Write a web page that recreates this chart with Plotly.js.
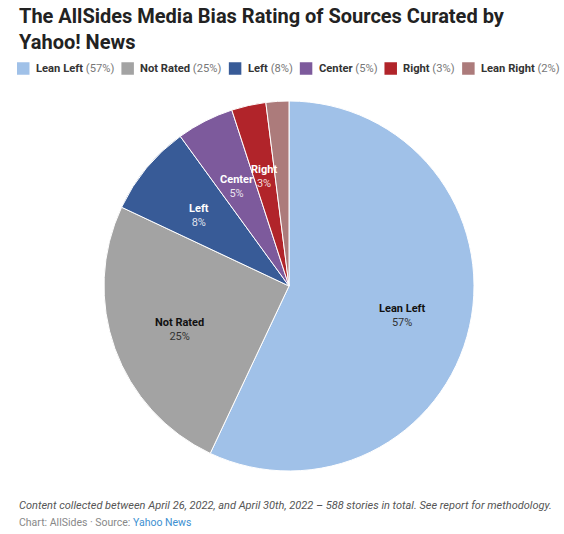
<!DOCTYPE html>
<html>
<head>
<meta charset="utf-8">
<script src="https://cdn.plot.ly/plotly-3.0.1.min.js"></script>
<style>
html,body{margin:0;padding:0;background:#fff;}
#chart{width:564px;height:534px;}
</style>
</head>
<body>
<div id="chart"></div>
<script>
// ---- data ----
const categories = ["Lean Left", "Not Rated", "Left", "Center", "Right", "Lean Right"];
const percentages = [57, 25, 8, 5, 3, 2];
const sliceColors = ["#a0c1e8", "#a3a3a3", "#385b97", "#7d5a9c", "#b1242a", "#ac7b7b"];
const labelNameColors = ["#111111", "#111111", "#ffffff", "#ffffff", "#ffffff", "#ffffff"];
const labelPctColors = ["#333333", "#333333", "rgba(255,255,255,0.85)", "rgba(255,255,255,0.85)", "rgba(255,255,255,0.85)", "rgba(255,255,255,0.85)"];
const titleText = "The AllSides Media Bias Rating of Sources Curated by<br>Yahoo! News";
const noteText = "Content collected between April 26, 2022, and April 30th, 2022 – 588 stories in total. See report for methodology.";
const creditText = "Chart: AllSides · Source: <span style=\"color:#3d8fd1\">Yahoo News</span>";

// ---- layout geometry ----
const W = 564, H = 534;
const cx = 289, cy = 286, R = 185;
const FONT = "Roboto, Arial, sans-serif";
const SQ = 12.5;

const annotations = [];
const shapes = [];

// title
annotations.push({
  xref: "paper", yref: "paper", x: 17 / W, y: 1 - 2 / H,
  xanchor: "left", yanchor: "top", align: "left", showarrow: false,
  text: "<b>" + titleText + "</b>",
  font: {family: FONT, size: 20, color: "#222222"}
});

// legend built from the categories (x positions fixed after measuring)
const legendY = 68.5;
const legendAnnIdx = [];
categories.forEach((c, i) => {
  shapes.push({
    type: "rect", xref: "paper", yref: "paper",
    x0: 0, x1: SQ / W, y0: 1 - (legendY + SQ / 2) / H, y1: 1 - (legendY - SQ / 2) / H,
    fillcolor: sliceColors[i], line: {width: 0}
  });
  legendAnnIdx.push(annotations.length);
  annotations.push({
    xref: "paper", yref: "paper", x: 0, y: 1 - legendY / H,
    xanchor: "left", yanchor: "middle", showarrow: false,
    text: "<b>" + c + "</b><span style=\"color:#777777\"> (" + percentages[i] + "%)</span>",
    font: {family: FONT, size: 11.2, color: "#333333"}
  });
});

// slice labels
const total = percentages.reduce((a, b) => a + b, 0);
let cum = 0;
percentages.forEach((v, i) => {
  const mid = (cum + v / 2) / total * 2 * Math.PI;
  cum += v;
  if (v < 3) return;
  const rr = R * 0.63;
  const px = cx + rr * Math.sin(mid);
  const py = cy - rr * Math.cos(mid) + 4;
  annotations.push({
    xref: "paper", yref: "paper", x: px / W, y: 1 - py / H,
    xanchor: "center", yanchor: "middle", showarrow: false,
    text: "<b>" + categories[i] + "</b><br><span style=\"color:" + labelPctColors[i] + "\">" + v + "%</span>",
    font: {family: FONT, size: 11, color: labelNameColors[i]}
  });
});

// footer
annotations.push({
  xref: "paper", yref: "paper", x: 17 / W, y: 1 - 505 / H,
  xanchor: "left", yanchor: "middle", showarrow: false,
  text: "<i>" + noteText + "</i>",
  font: {family: FONT, size: 11, color: "#555555"}
});
annotations.push({
  xref: "paper", yref: "paper", x: 17 / W, y: 1 - 522 / H,
  xanchor: "left", yanchor: "middle", showarrow: false,
  text: creditText,
  font: {family: FONT, size: 10.5, color: "#888888"}
});

const trace = {
  type: "pie",
  labels: categories,
  values: percentages,
  sort: false,
  direction: "clockwise",
  rotation: 0,
  textinfo: "none",
  hoverinfo: "skip",
  marker: {colors: sliceColors, line: {color: "#ffffff", width: 1}},
  domain: {x: [(cx - R) / W, (cx + R) / W], y: [1 - (cy + R) / H, 1 - (cy - R) / H]},
  showlegend: false
};

const layout = {
  width: W, height: H,
  margin: {l: 0, r: 0, t: 0, b: 0},
  paper_bgcolor: "#ffffff",
  showlegend: false,
  annotations: annotations,
  shapes: shapes,
  font: {family: FONT}
};

Plotly.newPlot("chart", [trace], layout, {staticPlot: true, displayModeBar: false}).then(gd => {
  // place legend items based on rendered text widths
  let lx = 17;
  const upd = {};
  legendAnnIdx.forEach((ai, i) => {
    const el = gd.querySelector('.annotation[data-index="' + ai + '"] .annotation-text');
    const tw = el ? el.getBBox().width : 80;
    upd["shapes[" + i + "].x0"] = lx / W;
    upd["shapes[" + i + "].x1"] = (lx + SQ) / W;
    upd["annotations[" + ai + "].x"] = (lx + 17) / W;
    lx += 17 + tw + 9;
  });
  return Plotly.relayout(gd, upd);
});
</script>
</body>
</html>
